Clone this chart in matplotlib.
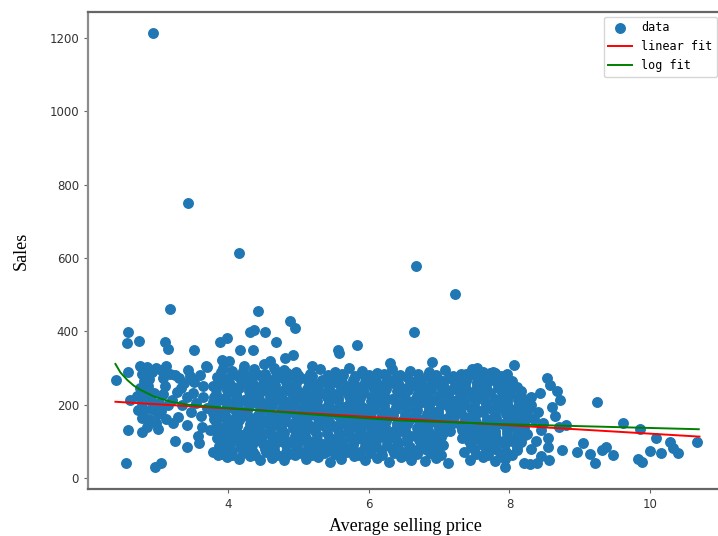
import matplotlib
matplotlib.use("Agg")
import matplotlib.pyplot as plt
import numpy as np

# ---- outliers / sparse points (price, sales) ----
out_x = [2.93, 3.43, 4.16, 6.67, 7.23, 6.64]
out_y = [1214, 750, 614, 578, 502, 398]

left_x = [2.41, 2.58, 2.57, 2.73, 2.58, 2.60, 2.58, 2.55, 2.78, 2.96, 3.05, 3.18, 3.10, 3.14,
          3.25, 3.41, 3.59, 3.22, 3.42, 3.29, 3.52,
          2.75, 2.85, 2.78, 2.92, 3.05, 2.80, 2.88, 3.08, 2.75, 3.10, 2.82, 2.95, 3.08, 2.78,
          2.90, 3.02, 2.80, 2.92, 3.05, 2.78, 2.88, 2.98, 3.12, 2.98, 3.12,
          3.25, 3.31, 3.43, 3.60, 3.70, 3.38, 3.52, 3.65, 3.28, 3.42, 3.50, 3.65, 3.35, 3.55,
          3.20, 3.48, 3.62, 3.63, 3.74, 3.79, 3.86, 3.70, 3.58, 3.91, 3.89, 3.98, 3.69,
          2.86, 2.70, 2.72, 3.00, 3.15, 2.85, 3.00, 3.18, 3.33, 3.46]
left_y = [268, 399, 368, 375, 288, 214, 130, 41, 126, 31, 40, 461, 372, 352,
          101, 85, 95, 150, 145, 166, 349,
          305, 303, 285, 290, 295, 265, 270, 272, 245, 250, 228, 232, 228, 205,
          210, 205, 185, 188, 182, 165, 160, 150, 162, 300, 305,
          280, 273, 295, 281, 303, 258, 262, 250, 235, 221, 232, 221, 200, 205,
          212, 180, 170, 139, 131, 71, 63, 190, 115, 322, 371, 382, 306,
          250, 225, 185, 175, 200, 140, 135, 285, 245, 278]

top_x = [4.17, 4.36, 4.31, 4.37, 4.43, 4.53, 4.68, 4.88, 4.95, 4.93, 4.81, 5.83, 5.56, 5.58,
         5.19, 6.30, 6.90, 7.54, 7.72, 8.06, 7.77, 7.87, 4.02, 4.60]
top_y = [350, 350, 398, 404, 455, 398, 371, 427, 410, 335, 327, 363, 350, 340,
         305, 315, 317, 299, 287, 308, 290, 272, 320, 318]

right_x = [8.53, 8.58, 8.67, 8.72, 8.60, 8.44, 8.30, 9.24, 8.81, 9.05, 8.96, 8.74, 8.56, 8.20,
           8.29, 8.39, 7.93, 8.55, 8.55, 8.48, 9.15, 9.62, 9.85, 10.08, 10.28, 10.33, 10.40,
           10.66, 9.99, 10.16, 9.83, 9.88, 9.37, 9.31, 9.47, 9.22,
           8.30, 8.40, 8.35, 8.45, 8.25, 8.38, 8.30, 8.45, 8.65, 8.70]
right_y = [272, 254, 236, 213, 195, 231, 222, 208, 145, 96, 70, 76, 49, 40,
           38, 40, 31, 85, 108, 149, 66, 149, 135, 108, 99, 81, 69,
           99, 75, 67, 51, 45, 85, 76, 63, 42,
           200, 180, 160, 130, 120, 100, 80, 60, 170, 140]

# ---- dense cluster rows ----
rowL_x = [3.93, 4.06, 4.22, 4.37, 4.51, 4.66, 4.80, 4.97, 5.31, 5.52, 5.72, 5.90, 6.12, 6.33,
          6.58, 6.86, 7.08, 7.31, 7.47, 7.63, 7.80, 7.96]
rowL_y = [301, 293, 306, 298, 312, 300, 295, 290, 296, 288, 300, 291, 287, 296,
          292, 289, 294, 285, 298, 290, 287, 283]
rowK_x = [3.84, 3.99, 4.14, 4.29, 4.44, 4.59, 4.74, 4.89, 5.04, 5.19, 5.34, 5.49, 5.64, 5.79,
          5.94, 6.09, 6.24, 6.39, 6.54, 6.69, 6.84, 6.99, 7.14, 7.29, 7.44, 7.59, 7.74, 7.89, 8.04]
rowK_y = [276, 270, 279, 273, 281, 268, 275, 280, 272, 277, 266, 274, 281, 270,
          276, 268, 279, 272, 275, 266, 278, 271, 274, 269, 280, 273, 267, 276, 264]
rowJ_x = [3.79, 3.94, 4.07, 4.24, 4.37, 4.54, 4.67, 4.84, 4.97, 5.14, 5.27, 5.44, 5.57, 5.74,
          5.87, 6.04, 6.17, 6.34, 6.47, 6.64, 6.77, 6.94, 7.07, 7.24, 7.37, 7.54, 7.67, 7.84,
          7.97, 8.10]
rowJ_y = [250, 256, 249, 258, 252, 247, 255, 251, 258, 246, 254, 250, 257, 252,
          248, 255, 251, 259, 246, 253, 250, 256, 248, 254, 251, 257, 249, 253, 255, 247]
rowI_x = [3.83, 4.01, 4.12, 4.30, 4.43, 4.61, 4.72, 4.90, 5.02, 5.21, 5.33, 5.50, 5.62, 5.81,
          5.93, 6.10, 6.22, 6.41, 6.53, 6.70, 6.82, 7.01, 7.13, 7.30, 7.42, 7.61, 7.73, 7.90,
          8.02, 8.17]
rowI_y = [228, 234, 230, 236, 225, 232, 229, 235, 231, 226, 233, 230, 237, 228,
          232, 234, 227, 231, 236, 229, 233, 226, 232, 230, 235, 228, 231, 234, 229, 224]
rowH_x = [3.78, 3.93, 4.06, 4.23, 4.36, 4.53, 4.66, 4.83, 4.96, 5.13, 5.26, 5.43, 5.56, 5.73,
          5.86, 6.03, 6.16, 6.33, 6.46, 6.63, 6.76, 6.93, 7.06, 7.23, 7.36, 7.53, 7.66, 7.83,
          7.96, 8.13, 8.26]
rowH_y = [206, 212, 205, 214, 208, 203, 211, 207, 213, 204, 210, 206, 213, 208,
          204, 211, 207, 215, 202, 209, 206, 212, 204, 210, 207, 213, 205, 209, 211, 203, 206]
rowG_x = [3.85, 3.98, 4.15, 4.28, 4.45, 4.58, 4.75, 4.88, 5.05, 5.18, 5.35, 5.48, 5.65, 5.78,
          5.95, 6.08, 6.25, 6.38, 6.55, 6.68, 6.85, 6.98, 7.15, 7.28, 7.45, 7.58, 7.75, 7.88,
          8.05, 8.18]
rowG_y = [184, 190, 186, 192, 181, 188, 185, 191, 187, 182, 189, 186, 193, 184,
          188, 190, 183, 187, 192, 185, 189, 182, 188, 186, 191, 184, 187, 190, 185, 180]
rowF_x = [3.80, 3.91, 4.08, 4.21, 4.38, 4.51, 4.68, 4.81, 4.98, 5.11, 5.28, 5.41, 5.58, 5.71,
          5.88, 6.01, 6.18, 6.31, 6.48, 6.61, 6.78, 6.91, 7.08, 7.21, 7.38, 7.51, 7.68, 7.81,
          7.98, 8.11, 8.24]
rowF_y = [162, 168, 161, 170, 164, 159, 167, 163, 169, 160, 166, 162, 169, 164,
          160, 167, 163, 171, 158, 165, 162, 168, 160, 166, 163, 169, 161, 165, 167, 159, 162]
rowE_x = [3.86, 4.00, 4.13, 4.31, 4.44, 4.60, 4.73, 4.91, 5.03, 5.20, 5.34, 5.51, 5.63, 5.80,
          5.94, 6.11, 6.23, 6.40, 6.54, 6.71, 6.83, 7.00, 7.14, 7.31, 7.43, 7.60, 7.74, 7.91,
          8.03, 8.20]
rowE_y = [140, 146, 142, 148, 137, 144, 141, 147, 143, 138, 145, 142, 149, 140,
          144, 146, 139, 143, 148, 141, 145, 138, 144, 142, 147, 140, 143, 146, 141, 136]
rowD_x = [3.90, 4.07, 4.20, 4.37, 4.50, 4.67, 4.80, 4.97, 5.10, 5.27, 5.40, 5.57, 5.70, 5.87,
          6.00, 6.17, 6.30, 6.47, 6.60, 6.77, 6.90, 7.05, 7.38, 7.52, 7.67, 7.80, 7.97, 8.10, 8.22]
rowD_y = [118, 124, 117, 126, 120, 115, 123, 119, 125, 116, 122, 118, 125, 120,
          116, 123, 119, 127, 114, 121, 118, 124, 119, 125, 117, 121, 123, 115, 118]
rowC_x = [3.95, 4.12, 4.27, 4.43, 4.58, 4.74, 4.89, 5.04, 5.19, 5.35, 5.50, 5.64, 5.80, 5.96,
          6.10, 6.26, 6.41, 6.55, 6.71, 6.86, 7.00, 7.42, 7.58, 7.73, 7.88, 8.04, 8.17]
rowC_y = [96, 102, 98, 104, 93, 100, 97, 103, 99, 94, 101, 98, 105, 96,
          100, 102, 95, 99, 104, 97, 101, 100, 103, 96, 99, 102, 97]
rowB_x = [3.92, 4.05, 4.22, 4.36, 4.53, 4.66, 4.82, 4.97, 5.12, 5.27, 5.42, 5.57, 5.73, 5.87,
          6.03, 6.18, 6.33, 6.48, 6.63, 6.80, 6.95, 7.36, 7.50, 7.66, 7.80, 7.95, 8.10]
rowB_y = [80, 74, 78, 72, 80, 76, 70, 79, 75, 81, 73, 77, 80, 72,
          78, 74, 80, 70, 76, 79, 75, 72, 80, 74, 78, 70, 76]
rowA_x = [3.98, 4.15, 4.31, 4.46, 4.63, 4.79, 4.95, 5.11, 5.28, 5.45, 5.61, 5.79, 5.95, 6.12,
          6.29, 6.46, 6.60, 6.80, 6.96, 7.12, 7.44, 7.62, 7.79, 7.94]
rowA_y = [58, 52, 60, 50, 55, 48, 62, 53, 57, 45, 52, 60, 49, 55,
          43, 58, 50, 47, 55, 42, 50, 56, 47, 53]

# ---- in-between rows of the dense cluster ----
midM1_x = [3.90, 4.06, 4.21, 4.38, 4.54, 4.70, 4.87, 5.03, 5.19, 5.36, 5.52, 5.69, 5.86, 6.02,
           6.19, 6.36, 6.52, 6.69, 6.87, 7.03, 7.52, 7.70, 7.87, 8.03]
midM1_y = [66, 63, 68, 64, 70, 62, 66, 69, 63, 67, 65, 70, 62, 67,
           64, 69, 63, 66, 68, 64, 65, 62, 68, 64]
midM2_x = [3.87, 4.02, 4.18, 4.34, 4.50, 4.66, 4.82, 4.98, 5.14, 5.30, 5.46, 5.62, 5.78, 5.94,
           6.10, 6.26, 6.42, 6.58, 6.74, 6.90, 7.06, 7.45, 7.62, 7.78, 7.94, 8.10]
midM2_y = [88, 91, 85, 89, 93, 86, 90, 84, 88, 92, 87, 85, 91, 88,
           86, 90, 93, 85, 89, 87, 91, 86, 90, 88, 92, 85]
midM3_x = [3.84, 3.99, 4.15, 4.31, 4.47, 4.63, 4.79, 4.95, 5.11, 5.27, 5.43, 5.59, 5.75, 5.91,
           6.07, 6.23, 6.39, 6.55, 6.71, 6.87, 7.03, 7.33, 7.49, 7.65, 7.81, 7.97, 8.13]
midM3_y = [110, 107, 113, 109, 106, 112, 108, 114, 110, 105, 111, 108, 113, 107,
           110, 112, 106, 109, 114, 108, 111, 110, 107, 112, 109, 113, 106]
midM4_x = [3.80, 3.96, 4.12, 4.28, 4.44, 4.60, 4.76, 4.92, 5.08, 5.24, 5.40, 5.56, 5.72, 5.88,
           6.04, 6.20, 6.36, 6.52, 6.68, 6.84, 7.00, 7.16, 7.32, 7.48, 7.64, 7.80, 7.96, 8.12]
midM4_y = [132, 129, 135, 131, 128, 134, 130, 136, 132, 127, 133, 130, 135, 129,
           132, 134, 128, 131, 136, 130, 133, 127, 132, 130, 135, 128, 131, 126]
midM5_x = [3.83, 3.99, 4.16, 4.32, 4.48, 4.64, 4.80, 4.96, 5.12, 5.28, 5.44, 5.60, 5.76, 5.92,
           6.08, 6.24, 6.40, 6.56, 6.72, 6.88, 7.04, 7.20, 7.36, 7.52, 7.68, 7.84, 8.00, 8.16]
midM5_y = [154, 151, 157, 153, 150, 156, 152, 158, 154, 149, 155, 152, 157, 151,
           154, 156, 150, 153, 158, 152, 155, 149, 154, 152, 157, 150, 153, 148]
midM6_x = [3.79, 3.95, 4.11, 4.27, 4.43, 4.59, 4.75, 4.91, 5.07, 5.23, 5.39, 5.55, 5.71, 5.87,
           6.03, 6.19, 6.35, 6.51, 6.67, 6.83, 6.99, 7.15, 7.31, 7.47, 7.63, 7.79, 7.95, 8.11, 8.26]
midM6_y = [176, 173, 179, 175, 172, 178, 174, 180, 176, 171, 177, 174, 179, 173,
           176, 178, 172, 175, 180, 174, 177, 171, 176, 174, 179, 172, 175, 178, 170]
midM7_x = [3.82, 3.98, 4.14, 4.30, 4.46, 4.62, 4.78, 4.94, 5.10, 5.26, 5.42, 5.58, 5.74, 5.90,
           6.06, 6.22, 6.38, 6.54, 6.70, 6.86, 7.02, 7.18, 7.34, 7.50, 7.66, 7.82, 7.98, 8.14, 8.28]
midM7_y = [198, 195, 201, 197, 194, 200, 196, 202, 198, 193, 199, 196, 201, 195,
           198, 200, 194, 197, 202, 196, 199, 193, 198, 196, 201, 194, 197, 200, 192]
midM8_x = [3.80, 3.96, 4.12, 4.28, 4.44, 4.60, 4.76, 4.92, 5.08, 5.24, 5.40, 5.56, 5.72, 5.88,
           6.04, 6.20, 6.36, 6.52, 6.68, 6.84, 7.00, 7.16, 7.32, 7.48, 7.64, 7.80, 7.96, 8.12, 8.25]
midM8_y = [220, 217, 223, 219, 216, 222, 218, 224, 220, 215, 221, 218, 223, 217,
           220, 222, 216, 219, 224, 218, 221, 215, 220, 218, 223, 216, 219, 214, 212]
midM9_x = [3.83, 3.99, 4.16, 4.32, 4.48, 4.64, 4.80, 4.96, 5.12, 5.28, 5.44, 5.60, 5.76, 5.92,
           6.08, 6.24, 6.40, 6.56, 6.72, 6.88, 7.04, 7.20, 7.36, 7.52, 7.68, 7.84, 8.00, 8.16]
midM9_y = [242, 239, 245, 241, 238, 244, 240, 246, 242, 237, 243, 240, 245, 239,
           242, 244, 238, 241, 246, 240, 243, 242, 239, 244, 241, 245, 238, 236]
midM10_x = [3.87, 4.02, 4.18, 4.34, 4.50, 4.66, 4.82, 4.98, 5.14, 5.30, 5.46, 5.62, 5.78, 5.94,
            6.10, 6.26, 6.42, 6.58, 6.74, 6.90, 7.06, 7.22, 7.38, 7.54, 7.70, 7.86, 8.02]
midM10_y = [264, 261, 267, 263, 260, 266, 262, 268, 264, 259, 265, 262, 267, 261,
            264, 266, 260, 263, 268, 262, 265, 259, 264, 262, 267, 260, 263]
midM11_x = [3.90, 4.05, 4.21, 4.36, 4.52, 4.68, 4.84, 5.00, 5.16, 5.42, 5.62, 5.80, 6.00, 6.22,
            6.45, 6.70, 6.95, 7.20, 7.38, 7.55, 7.70, 7.88]
midM11_y = [288, 285, 291, 287, 284, 290, 286, 282, 284, 280, 283, 279, 282, 284,
            280, 283, 281, 279, 284, 282, 280, 278]

# ---- fitted curves ----
linear_coef = [-11.45, 235.4]      # slope, intercept
fit_range = [2.4, 10.7]
log_fit_x = [2.40, 2.47, 2.57, 2.66, 2.76, 2.95, 3.19, 3.43, 3.93, 4.41, 4.88, 5.50, 6.44, 7.87, 9.29, 10.69]
log_fit_y = [311, 288, 267, 252, 240, 222, 208, 200, 192, 185, 178, 169, 157, 147, 140, 133]

xs = np.concatenate([out_x, left_x, top_x, right_x, rowL_x, rowK_x, rowJ_x, rowI_x, rowH_x,
                     rowG_x, rowF_x, rowE_x, rowD_x, rowC_x, rowB_x, rowA_x,
                     midM1_x, midM2_x, midM3_x, midM4_x, midM5_x, midM6_x, midM7_x, midM8_x,
                     midM9_x, midM10_x, midM11_x])
ys = np.concatenate([out_y, left_y, top_y, right_y, rowL_y, rowK_y, rowJ_y, rowI_y, rowH_y,
                     rowG_y, rowF_y, rowE_y, rowD_y, rowC_y, rowB_y, rowA_y,
                     midM1_y, midM2_y, midM3_y, midM4_y, midM5_y, midM6_y, midM7_y, midM8_y,
                     midM9_y, midM10_y, midM11_y])

fig = plt.figure(figsize=(7.18, 5.36), dpi=100)
ax = fig.add_axes([88 / 718, 47 / 536, 634 / 718, 477 / 536])

ax.scatter(xs, ys, s=62, color="#1f77b4", label="data", zorder=2, linewidths=0)
lx = np.array(fit_range)
ax.plot(lx, linear_coef[0] * lx + linear_coef[1], color="red", lw=1.4, label="linear fit", zorder=3)
ax.plot(log_fit_x, log_fit_y, color="green", lw=1.4, label="log fit", zorder=3)

ax.set_xlim(2.01, 11.02)
ax.set_ylim(-30, 1271)
ax.set_xticks([4, 6, 8, 10])
ax.set_yticks([0, 200, 400, 600, 800, 1000, 1200])
ax.tick_params(axis="both", labelsize=8.5, length=3, color="#666666", labelcolor="#333333")
for name, sp in ax.spines.items():
    sp.set_color("#8c8c8c" if name in ("left", "right") else "#666666")
    sp.set_linewidth(1.6)

ax.set_xlabel("Average selling price", fontfamily="Liberation Serif", fontsize=13, labelpad=5)
ax.set_ylabel("Sales", fontfamily="Liberation Serif", fontsize=13, labelpad=14)

leg = ax.legend(loc="upper right", prop={"family": "DejaVu Sans Mono", "size": 8.5},
                scatterpoints=1, frameon=True, borderaxespad=0.4)
leg.get_frame().set_edgecolor("#cccccc")

fig.savefig("out.png", dpi=100)
